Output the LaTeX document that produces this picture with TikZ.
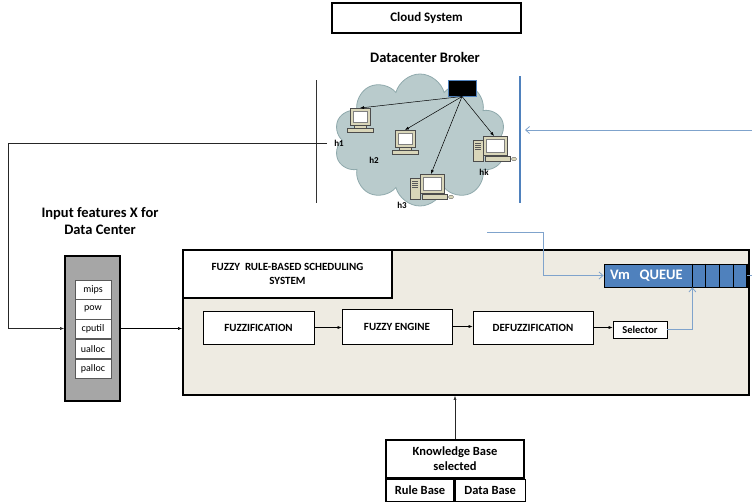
\documentclass[tikz,border=0pt]{standalone}
\usepackage{fontspec}
\setmainfont{Carlito}
\usepackage{tikz}
\usetikzlibrary{arrows.meta,shapes.symbols,positioning}

\definecolor{cloudfill}{HTML}{B9CBCC}
\definecolor{cloudedge}{HTML}{8FA9AC}
\definecolor{panel}{HTML}{EEEBE2}
\definecolor{qblue}{HTML}{4F81BD}
\definecolor{lineblue}{HTML}{7FA3CC}
\definecolor{boxgray}{HTML}{A6A6A6}
\definecolor{pcbody}{HTML}{D9D6B9}

% desktop machines inside the cloud
\tikzset{
  pc/.pic={
    \draw[draw=gray!60!black, fill=pcbody, line width=0.4pt] (-10,-17) rectangle (10,0);
    \draw[draw=gray, fill=white, line width=0.3pt] (-7,-14) rectangle (7,-3);
    \draw[draw=gray!60!black, fill=pcbody, line width=0.4pt] (-6,0) rectangle (6,3);
    \draw[draw=gray!60!black, fill=pcbody, line width=0.4pt] (-13,3) rectangle (13,7);
    \coordinate (-top) at (0,-17);
  },
  towerpc/.pic={
    \draw[draw=gray!60!black, fill=pcbody, line width=0.4pt] (-21,-15) rectangle (-11,6);
    \foreach \k in {-12,-10,-8,-6} \draw[gray!70!black, line width=0.3pt] (-19,\k) -- (-13,\k);
    \draw[draw=gray!60!black, fill=pcbody, line width=0.4pt] (-11,-19) rectangle (13,0);
    \draw[draw=gray, fill=white, line width=0.3pt] (-8,-16) rectangle (10,-3);
    \draw[draw=gray!60!black, fill=pcbody, line width=0.4pt] (-9,1) rectangle (16,6);
    \draw[draw=gray!60!black, fill=pcbody, line width=0.3pt] (20,4) ellipse (2.5 and 1.8);
    \coordinate (-top) at (0,-19);
  }
}

\begin{document}
\begin{tikzpicture}[x=1pt, y=-1pt,
  box/.style={draw, fill=white, line width=0.6pt, inner sep=0pt, align=center,
    font=\bfseries\fontsize{11}{13}\selectfont},
  heavy/.style={draw, line width=1.7pt, inner sep=0pt},
  cell/.style={draw=gray!70!black, fill=white, line width=0.5pt, inner sep=0pt,
    minimum width=36pt, minimum height=19.2pt, font=\fontsize{10}{11}\selectfont},
  hostlabel/.style={font=\bfseries\fontsize{9}{10}\selectfont, inner sep=0pt},
  link/.style={-{Latex[length=4pt,width=3pt]}, line width=0.5pt},
  bluelink/.style={-{Straight Barb[length=4pt,width=7pt]}, draw=lineblue, line width=0.8pt},
]
\useasboundingbox (0,0) rectangle (752,503);

% cloud system and broker
\node[heavy, minimum width=189pt, minimum height=30pt,
  font=\bfseries\fontsize{13}{15}\selectfont] (cloudsys) at (426.5,18) {Cloud System};
\node[font=\bfseries\fontsize{14.5}{16}\selectfont] (brokertitle) at (425,57) {Datacenter Broker};

\node[cloud, cloud puffs=10, aspect=1.3, draw=cloudedge, fill=cloudfill, line width=0.8pt,
  minimum width=172pt, minimum height=132pt] (cloud) at (420,140) {};
\node[draw=qblue, fill=black, line width=1pt, minimum width=28pt, minimum height=16pt,
  inner sep=0pt] (broker) at (462,88) {};

\pic (h1) at (360,125) {pc};
\pic (h2) at (405,147) {pc};
\pic (h3) at (431,193) {towerpc};
\pic (hk) at (494,155) {towerpc};
\node[hostlabel] (h1lbl) at (339,143) {h1};
\node[hostlabel] (h2lbl) at (374,160) {h2};
\node[hostlabel] (h3lbl) at (402,205) {h3};
\node[hostlabel] (hklbl) at (484,172) {hk};

\foreach \h in {h1,h2,h3,hk}
  \draw[link] (broker.south) -- (\h-top);

% boundary bars
\coordinate (gtop) at (316,80);
\coordinate (gbot) at (316,203);
\coordinate (btop) at (520,76);
\coordinate (bbot) at (520,203);
\draw[gray!40!black, line width=1pt] (gtop) -- (gbot);
\draw[qblue, line width=1.7pt] (btop) -- (bbot);
\coordinate (tap) at (327,143);
\coordinate (rightin) at (752,130);
\coordinate (barhit) at (525,130);
\draw[bluelink] (rightin) -- (barhit);

% input features
\node[font=\bfseries\fontsize{14.5}{17}\selectfont, align=center] (intitle) at (100,221)
  {Input features X for\\Data Center};
\node[heavy, fill=boxgray, minimum width=55pt, minimum height=145pt] (inputs) at (92.5,328.5) {};
\node[cell] (mips) at (93,289.6) {mips};
\node[cell, below=0pt of mips] (pow) {pow};
\node[cell, below=0pt of pow] (cputil) {cputil};
\node[cell, below=0pt of cputil] (ualloc) {ualloc};
\node[cell, below=0pt of ualloc] (palloc) {palloc};

\draw[link, gray!30!black] (tap) -- (8,143) |- (inputs.west);

% fuzzy scheduler
\node[heavy, fill=panel, minimum width=566pt, minimum height=145pt] (fuzzy) at (466,322.5) {};
\node[heavy, fill=white, minimum width=209pt, minimum height=48pt, align=center,
  font=\bfseries\fontsize{11}{14}\selectfont] (fuzzytitle) at (287.5,274)
  {FUZZY\ \ RULE-BASED SCHEDULING\\SYSTEM};

\node[box, minimum width=111pt, minimum height=33pt] (fuzzif) at (258.5,327.5) {FUZZIFICATION};
\node[box, minimum width=110pt, minimum height=35pt] (engine) at (397,326.5) {FUZZY ENGINE};
\node[box, minimum width=120pt, minimum height=33pt] (defuzz) at (533,327.5) {DEFUZZIFICATION};
\node[box, minimum width=54pt, minimum height=17pt, font=\bfseries\fontsize{10.5}{12}\selectfont]
  (selector) at (640,329.5) {Selector};

\draw[link] (inputs.east) -- (inputs.east -| fuzzy.west);
\draw[link] (fuzzif.east) -- (fuzzif.east -| engine.west);
\draw[link] (engine.east) -- (engine.east -| defuzz.west);
\draw[link] (defuzz.east) -- (defuzz.east -| selector.west);

% vm queue
\node[draw, fill=qblue, line width=0.8pt, minimum width=143pt, minimum height=23pt,
  text width=131pt, inner xsep=6pt, inner ysep=0pt, align=left, text=white,
  font=\bfseries\fontsize{14.5}{16}\selectfont] (queue) at (675.5,275.5) {Vm\ \ QUEUE};
\foreach \d in {14,28,42,55}
  \draw[line width=0.8pt] ([xshift=-\d pt]queue.north east) -- ([xshift=-\d pt]queue.south east);
\draw[line width=2pt] (queue.north east) -- (queue.south east);

\coordinate (schedin) at (487,232);
\coordinate (rightout) at (752,275.5);
\draw[bluelink] (schedin) -- ++(56,0) |- (queue.west);
\draw[bluelink] (selector.east) -| ([xshift=-55pt]queue.south east);
\draw[lineblue, line width=0.8pt] (queue.east) -- (rightout);

% knowledge base
\node[draw, fill=white, line width=1.2pt, minimum width=138pt, minimum height=38pt, inner sep=0pt,
  align=center, font=\bfseries\fontsize{12.5}{15}\selectfont] (kb) at (455,459)
  {Knowledge Base\\selected};
\node[draw, line width=1.2pt, minimum width=68pt, minimum height=22pt, inner sep=0pt,
  font=\bfseries\fontsize{12.5}{14}\selectfont, anchor=north west] (rulebase) at (kb.south west) {Rule Base};
\node[draw, line width=1.2pt, minimum width=70pt, minimum height=22pt, inner sep=0pt,
  font=\bfseries\fontsize{12.5}{14}\selectfont, anchor=north west] (database) at (rulebase.north east) {Data Base};
\draw[link, gray!30!black] (kb.north) -- (kb.north |- fuzzy.south);

\end{tikzpicture}
\end{document}
